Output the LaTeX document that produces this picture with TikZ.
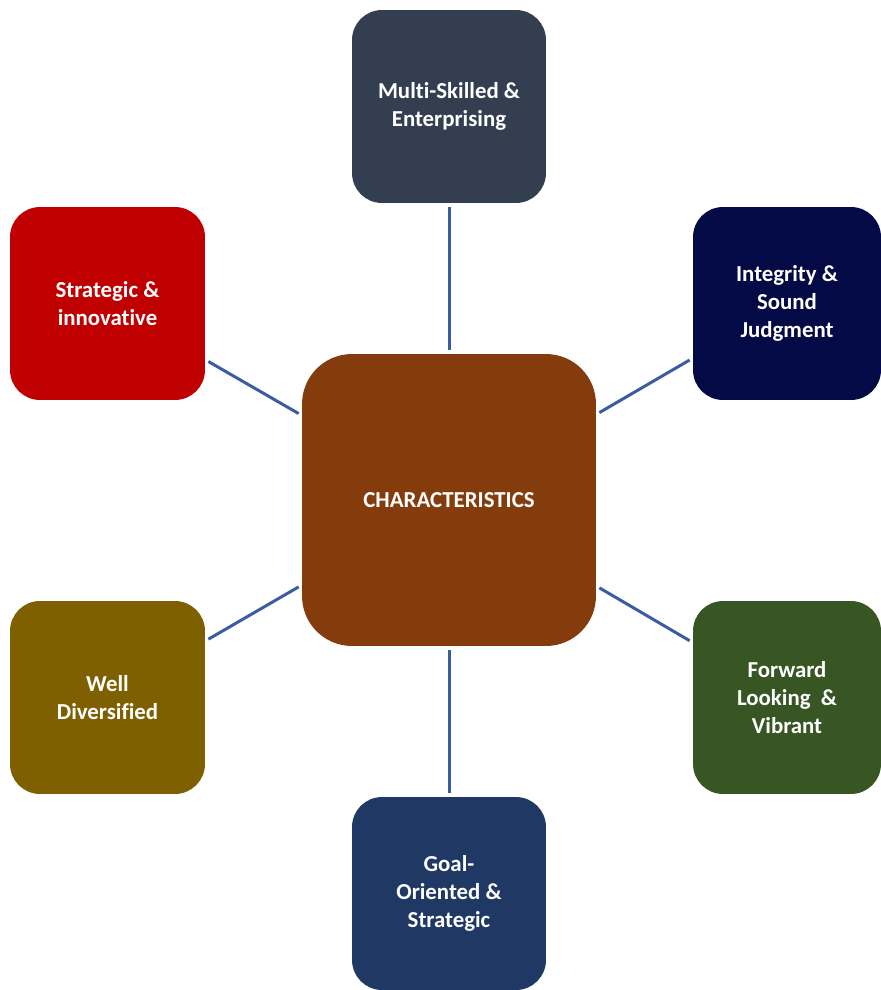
\documentclass[tikz,border=0pt]{standalone}
\usepackage{fontspec}
\setmainfont{Carlito}[Ligatures=NoCommon]
\usetikzlibrary{positioning}
\definecolor{slate}{HTML}{333F50}
\definecolor{midnight}{HTML}{030A45}
\definecolor{crimson}{HTML}{C00000}
\definecolor{rust}{HTML}{843C0C}
\definecolor{olive}{HTML}{7F6000}
\definecolor{forest}{HTML}{375623}
\definecolor{navy}{HTML}{203864}
\definecolor{linkblue}{HTML}{3B5CA0}

\begin{document}
\begin{tikzpicture}[x=0.02cm,y=-0.02cm,
  card/.style={rounded corners=0.6cm, minimum height=3.86cm, inner sep=0pt, align=center, text=white, font=\bfseries\fontsize{13}{16}\selectfont},
  link/.style={draw=linkblue, line width=1.7pt, shorten <=2pt, shorten >=2pt}]
\useasboundingbox (0,0) rectangle (881,990);
\node[card, fill=rust, minimum width=5.88cm, minimum height=5.84cm, rounded corners=1cm] (centre) at (449,500) {CHARACTERISTICS};
\foreach \nm/\x/\y/\w/\col/\txt in {top/449/106.5/3.88/slate/{Multi-Skilled \&\\Enterprising},
    upright/787/303.5/3.76/midnight/{Integrity \&\\Sound\\Judgment},
    upleft/107.5/303.5/3.9/crimson/{Strategic \&\\innovative},
    lowleft/107.5/697.5/3.9/olive/{Well\\Diversified},
    lowright/787/697.5/3.76/forest/{Forward\\Looking\ \ \&\\Vibrant},
    bottom/449/893.5/3.88/navy/{Goal-\\Oriented \&\\Strategic}} {
  \node[card, fill=\col, minimum width=\w cm] (\nm) at (\x,\y) {\txt};
  \draw[link] (centre) -- (\nm);
}
\end{tikzpicture}
\end{document}
